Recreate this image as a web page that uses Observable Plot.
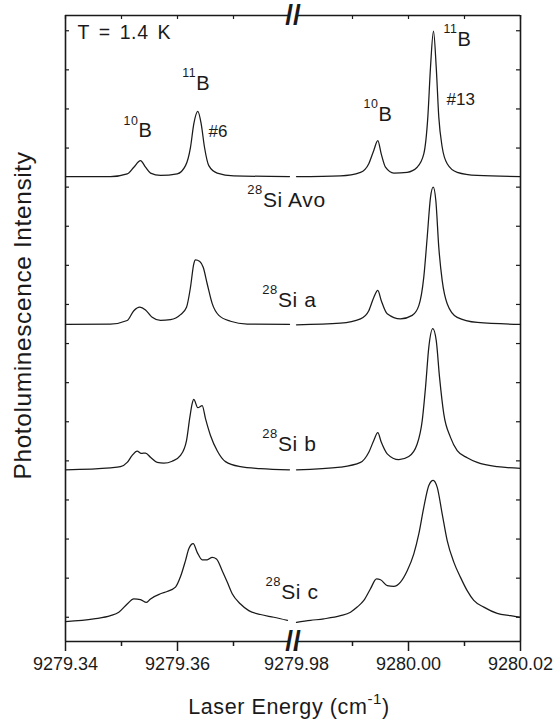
<!DOCTYPE html>
<html><head><meta charset="utf-8">
<script src="https://cdn.jsdelivr.net/npm/d3@7"></script>
<script src="https://cdn.jsdelivr.net/npm/@observablehq/plot@0.6"></script>
<style>
body{margin:0;background:#fff;}
</style></head><body><div id="chart"></div>
<script>
// ---- data (energy in cm^-1, intensity in arbitrary units incl. vertical offsets) ----
const avoLeft = [[9279.34,12.27],[9279.34804,12.27],[9279.35102,12.34],[9279.35220,12.51],[9279.35339,12.68],[9279.35429,12.51],[9279.35518,12.36],[9279.35696,12.30],[9279.35995,12.34],[9279.36143,12.55],[9279.36232,13.02],[9279.36291,13.62],[9279.36363,13.94],[9279.36423,13.62],[9279.36482,13.02],[9279.36559,12.55],[9279.36709,12.36],[9279.37005,12.29],[9279.38,12.27]];
const avoRight = [[9279.98,12.27],[9279.98786,12.29],[9279.99143,12.38],[9279.99291,12.60],[9279.99380,12.94],[9279.99452,13.19],[9279.99513,12.85],[9279.99589,12.51],[9279.99738,12.36],[9279.99977,12.38],[9280.00155,12.51],[9280.00273,12.85],[9280.00345,13.79],[9280.00393,15.07],[9280.00446,15.99],[9280.00495,15.07],[9280.00541,13.79],[9280.00602,13.02],[9280.00691,12.60],[9280.00870,12.38],[9280.01227,12.30],[9280.02,12.27]];
const aLeft = [[9279.34,8.49],[9279.34804,8.50],[9279.35102,8.59],[9279.35220,8.84],[9279.35327,8.93],[9279.35429,8.86],[9279.35548,8.67],[9279.35696,8.59],[9279.35875,8.61],[9279.36054,8.74],[9279.36161,8.93],[9279.36232,9.44],[9279.36291,10.04],[9279.36321,10.14],[9279.36398,10.10],[9279.36459,9.95],[9279.36530,9.53],[9279.36620,9.02],[9279.36738,8.72],[9279.36946,8.57],[9279.37245,8.50],[9279.38,8.49]];
const aRight = [[9279.98,8.48],[9279.98786,8.52],[9279.99143,8.63],[9279.99291,8.84],[9279.99380,9.18],[9279.99452,9.36],[9279.99513,9.10],[9279.99620,8.76],[9279.99857,8.63],[9280.00066,8.72],[9280.00184,8.97],[9280.00273,9.70],[9280.00334,10.72],[9280.00393,11.74],[9280.00441,12.00],[9280.00488,11.66],[9280.00541,10.46],[9280.00602,9.61],[9280.00691,9.02],[9280.00870,8.67],[9280.01227,8.54],[9280.02,8.49]];
const bLeft = [[9279.34,4.77],[9279.34804,4.82],[9279.34982,4.85],[9279.35102,4.96],[9279.35191,5.14],[9279.35280,5.25],[9279.35352,5.19],[9279.35429,5.20],[9279.35518,5.09],[9279.35638,4.96],[9279.35755,4.94],[9279.35905,4.99],[9279.36054,5.14],[9279.36161,5.52],[9279.36220,6.11],[9279.36263,6.47],[9279.36291,6.57],[9279.36363,6.36],[9279.36441,6.41],[9279.36500,6.08],[9279.36589,5.65],[9279.36709,5.26],[9279.36857,4.98],[9279.37125,4.85],[9279.37482,4.80],[9279.38,4.77]];
const bRight = [[9279.98,4.77],[9279.98786,4.84],[9279.99143,4.96],[9279.99291,5.22],[9279.99380,5.52],[9279.99452,5.72],[9279.99513,5.48],[9279.99620,5.18],[9279.99827,5.03],[9280.00005,5.11],[9280.00155,5.43],[9280.00245,6.03],[9280.00304,6.88],[9280.00363,7.91],[9280.00434,8.38],[9280.00495,8.08],[9280.00554,7.14],[9280.00630,6.20],[9280.00750,5.60],[9280.00870,5.26],[9280.01048,5.08],[9280.01227,4.96],[9280.01584,4.85],[9280.02,4.81]];
const cLeft = [[9279.34,0.89],[9279.34505,0.96],[9279.34804,1.04],[9279.34952,1.13],[9279.35102,1.34],[9279.35220,1.47],[9279.35339,1.45],[9279.35446,1.38],[9279.35518,1.47],[9279.35696,1.60],[9279.35816,1.66],[9279.35964,1.77],[9279.36054,2.04],[9279.36143,2.45],[9279.36202,2.75],[9279.36280,2.88],[9279.36352,2.66],[9279.36441,2.47],[9279.36530,2.47],[9279.36620,2.53],[9279.36696,2.49],[9279.36798,2.19],[9279.36888,1.90],[9279.36977,1.60],[9279.37125,1.34],[9279.37273,1.17],[9279.37482,1.07],[9279.37720,1.00],[9279.37964,0.92]];
const cRight = [[9279.98,0.87],[9279.98250,0.92],[9279.98488,0.96],[9279.98786,1.04],[9279.98964,1.13],[9279.99084,1.26],[9279.99202,1.43],[9279.99321,1.73],[9279.99429,1.98],[9279.99500,1.96],[9279.99620,1.81],[9279.99738,1.79],[9279.99857,1.90],[9279.99977,2.19],[9280.00095,2.62],[9280.00184,3.13],[9280.00273,3.81],[9280.00363,4.37],[9280.00441,4.50],[9280.00513,4.32],[9280.00602,3.64],[9280.00691,2.96],[9280.00809,2.41],[9280.00929,2.02],[9280.01048,1.68],[9280.01166,1.43],[9280.01345,1.26],[9280.01584,1.10],[9280.01821,1.04],[9280.02,1.00]];

const xBreakDomain = [9279.34, 9279.38, 9279.98, 9280.02];
const xMajorTicks = [9279.34, 9279.36, 9279.98, 9280.00, 9280.02];
const xMinorTicks = [9279.35, 9279.37, 9279.99, 9280.01];
const yTicks = [1,2,3,4,5,6,7,8,9,10,11,12,13,14,15,16];
const yDomain = [0.38, 16.39];
const segments = [{x1: 9279.34, x2: 9279.38}, {x1: 9279.98, x2: 9280.02}];

const isotopeLabels = [
  {text: "<sup>10</sup>B", e: 9279.35036, v: 13.28},
  {text: "<sup>11</sup>B", e: 9279.36084, v: 14.49},
  {text: "<sup>10</sup>B", e: 9279.99196, v: 13.70},
  {text: "<sup>11</sup>B", e: 9280.00625, v: 15.62}
];
const lineLabels = [
  {text: "#6", e: 9279.36554, v: 13.27},
  {text: "#13", e: 9280.00679, v: 14.11}
];
const sampleLabels = [
  {text: "<sup>28</sup>Si Avo", e: 9279.37245, v: 11.49},
  {text: "<sup>28</sup>Si a", e: 9279.37513, v: 8.93},
  {text: "<sup>28</sup>Si b", e: 9279.37513, v: 5.26},
  {text: "<sup>28</sup>Si c", e: 9279.37571, v: 1.47}
];
const tempLabel = [{text: "T = 1.4 K", e: 9279.34214, v: 15.79}];
const xTitle = "Laser Energy (cm<sup>-1</sup>)";
const yTitle = "Photoluminescence Intensity";

const samples = [
  {name: "Avo", left: avoLeft, right: avoRight},
  {name: "a", left: aLeft, right: aRight},
  {name: "b", left: bLeft, right: bRight},
  {name: "c", left: cLeft, right: cRight}
];
const rows = samples.flatMap(s => [["L", s.left], ["R", s.right]].flatMap(([seg, arr]) =>
  arr.map(([e, v]) => ({key: s.name + seg, e, v}))));

const W = 556, H = 724, mL = 65, mR = 36, mT = 15, mB = 83;
const fw = W - mL - mR, fh = H - mT - mB;
const ink = "#1a1a1a";

const plot = Plot.plot({
  width: W, height: H,
  marginLeft: mL, marginRight: mR, marginTop: mT, marginBottom: mB,
  style: {fontFamily: "'Liberation Sans', Arial, sans-serif", background: "#fff", color: ink},
  x: {type: "linear", domain: xBreakDomain, range: [mL, 289, 296, W - mR]},
  y: {domain: yDomain, axis: null},
  marks: [
    Plot.line(rows, {x: "e", y: "v", z: "key", curve: "monotone-x", stroke: ink, strokeWidth: 1.25}),
    Plot.ruleX([xBreakDomain[0], xBreakDomain[3]], {stroke: ink, strokeWidth: 1.6}),
    Plot.ruleY(segments, {y: () => yDomain[0], x1: "x1", x2: "x2", stroke: ink, strokeWidth: 1.6}),
    Plot.ruleY(segments, {y: () => yDomain[1], x1: "x1", x2: "x2", stroke: ink, strokeWidth: 1.6}),
    Plot.tickX([...xMajorTicks, ...xMinorTicks], {x: d => d, insetBottom: fh - 4, stroke: ink, strokeWidth: 1.2}),
    Plot.tickY(yTicks, {y: d => d, insetRight: fw - 4, stroke: ink, strokeWidth: 1.2}),
    Plot.tickY(yTicks, {y: d => d, insetLeft: fw - 4, stroke: ink, strokeWidth: 1.2}),
    Plot.axisX(xMajorTicks, {anchor: "bottom", tickSize: 10, tickPadding: 6, strokeWidth: 1.5, stroke: ink,
      tickFormat: d => d.toFixed(2), fontSize: 18, label: null}),
    Plot.axisX(xMinorTicks, {anchor: "bottom", tickSize: 5, strokeWidth: 1.5, stroke: ink, tickFormat: () => "", label: null}),
    Plot.text(["//"], {x: () => (xBreakDomain[1] + xBreakDomain[2]) / 2, frameAnchor: "top", text: d => d, fontSize: 28, fontWeight: "bold", lineAnchor: "middle", fill: ink}),
    Plot.text(["//"], {x: () => (xBreakDomain[1] + xBreakDomain[2]) / 2, frameAnchor: "bottom", text: d => d, fontSize: 28, fontWeight: "bold", lineAnchor: "middle", fill: ink}),
    Plot.text(tempLabel, {x: "e", y: "v", text: "text", textAnchor: "start", lineAnchor: "bottom", fontSize: 19.5, fill: ink}),
    Plot.text(isotopeLabels, {x: "e", y: "v", text: "text", textAnchor: "start", lineAnchor: "bottom", fontSize: 20, fill: ink}),
    Plot.text(lineLabels, {x: "e", y: "v", text: "text", textAnchor: "start", lineAnchor: "bottom", fontSize: 17, fill: ink}),
    Plot.text(sampleLabels, {x: "e", y: "v", text: "text", textAnchor: "start", lineAnchor: "bottom", fontSize: 21, fill: ink}),
    Plot.text([xTitle], {frameAnchor: "bottom", text: d => d, dx: -4, dy: 72, lineAnchor: "bottom", textAnchor: "middle", fontSize: 21.5, fill: ink}),
    Plot.text([yTitle], {frameAnchor: "left", text: d => d, rotate: -90, dx: -35, dy: -13, lineAnchor: "bottom", textAnchor: "middle", fontSize: 24.5, fill: ink})
  ]
});
document.getElementById("chart").appendChild(plot);

// superscripts and letter spacing
const NS = "http://www.w3.org/2000/svg";
plot.querySelectorAll("text").forEach(t => {
  const s = t.textContent;
  if (/[A-Za-z]/.test(s) && !s.startsWith("//")) t.setAttribute("letter-spacing", "0.6");
  if (s.startsWith("T =")) t.setAttribute("word-spacing", "3");
  if (!s.includes("<sup>")) return;
  const fs = parseFloat(getComputedStyle(t).fontSize);
  const isTitle = s.startsWith("Laser");
  const raise = fs * (isTitle ? 0.42 : 0.62);
  const supSize = fs * (isTitle ? 0.7 : 0.62);
  const parts = s.split(/<sup>|<\/sup>/);
  t.textContent = "";
  parts.forEach((p, i) => {
    const ts = document.createElementNS(NS, "tspan");
    ts.textContent = p;
    if (i % 2 === 1) { ts.setAttribute("font-size", supSize); ts.setAttribute("dy", -raise); }
    else if (i > 0) { ts.setAttribute("dy", raise); }
    t.appendChild(ts);
  });
});
</script></body></html>
